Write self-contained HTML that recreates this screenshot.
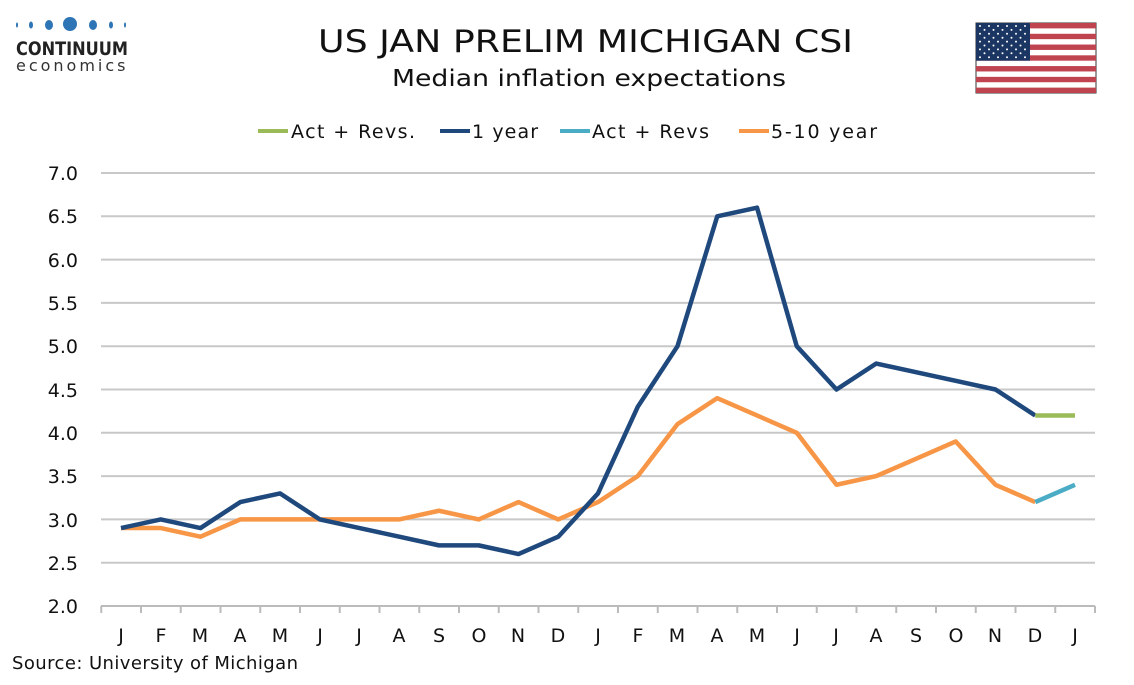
<!DOCTYPE html>
<html><head><meta charset="utf-8"><style>
body{margin:0;background:#fff;}
svg text{font-family:"DejaVu Sans","Liberation Sans",sans-serif;fill:#111;}
</style></head><body>
<svg id="s" width="1134" height="680" xmlns="http://www.w3.org/2000/svg">
<g fill="#2e75b6">
<ellipse cx="17" cy="25" rx="1" ry="2.5"/><ellipse cx="31" cy="25" rx="2" ry="3.5"/><ellipse cx="49" cy="25" rx="4" ry="5"/><circle cx="70" cy="24" r="7"/><ellipse cx="93" cy="25" rx="4" ry="5"/><ellipse cx="111" cy="25" rx="2" ry="3.5"/><ellipse cx="125" cy="25" rx="1" ry="2.5"/>
</g>
<text x="16" y="55" style="font-size:19px;font-weight:bold;fill:#222" textLength="112" lengthAdjust="spacingAndGlyphs">CONTINUUM</text>
<text x="16" y="71" style="font-size:16px;fill:#333;letter-spacing:1.5px" textLength="111">economics</text>
<text x="318" y="52" style="font-size:31px" textLength="535" lengthAdjust="spacingAndGlyphs">US JAN PRELIM MICHIGAN CSI</text>
<text x="392" y="86" style="font-size:23px" textLength="394" lengthAdjust="spacingAndGlyphs">Median inflation expectations</text>
<g id="flag"><rect x="976" y="23" width="120" height="70" fill="#fff" stroke="#333" stroke-width="1"/></g>
<line x1="258" y1="131" x2="288" y2="131" stroke="#9bbb59" stroke-width="4"/>
<text x="291" y="138" style="font-size:19px" textLength="124">Act + Revs.</text>
<line x1="440" y1="131" x2="470" y2="131" stroke="#1f497d" stroke-width="4"/>
<text x="472" y="138" style="font-size:19px" textLength="66">1 year</text>
<line x1="560" y1="131" x2="590" y2="131" stroke="#4bacc6" stroke-width="4"/>
<text x="592" y="138" style="font-size:19px" textLength="117">Act + Revs</text>
<line x1="739" y1="131" x2="769" y2="131" stroke="#f79646" stroke-width="4"/>
<text x="771" y="138" style="font-size:19px" textLength="106">5-10 year</text>
<g id="grid"></g>
<g style="font-size:19px" text-anchor="end">
<text x="78" y="180">7.0</text><text x="78" y="223">6.5</text><text x="78" y="267">6.0</text><text x="78" y="310">5.5</text><text x="78" y="353">5.0</text><text x="78" y="397">4.5</text><text x="78" y="440">4.0</text><text x="78" y="483">3.5</text><text x="78" y="527">3.0</text><text x="78" y="570">2.5</text><text x="78" y="613">2.0</text>
</g>
<g style="font-size:19px" text-anchor="middle">
<text x="121" y="642">J</text><text x="161" y="642">F</text><text x="200" y="642">M</text><text x="240" y="642">A</text><text x="280" y="642">M</text><text x="320" y="642">J</text><text x="359" y="642">J</text><text x="399" y="642">A</text><text x="439" y="642">S</text><text x="479" y="642">O</text><text x="518" y="642">N</text><text x="558" y="642">D</text><text x="598" y="642">J</text><text x="638" y="642">F</text><text x="677" y="642">M</text><text x="717" y="642">A</text><text x="757" y="642">M</text><text x="797" y="642">J</text><text x="836" y="642">J</text><text x="876" y="642">A</text><text x="916" y="642">S</text><text x="956" y="642">O</text><text x="995" y="642">N</text><text x="1035" y="642">D</text><text x="1075" y="642">J</text>
</g>
<text x="12" y="669" style="font-size:18px" textLength="286">Source: University of Michigan</text>
<g id="lines"></g>
</svg>
<script>
var NS="http://www.w3.org/2000/svg";
function el(p,t,a){var e=document.createElementNS(NS,t);for(var k in a)e.setAttribute(k,a[k]);p.appendChild(e);return e;}
var g=document.getElementById('grid');
for(var v=2.5;v<=7.01;v+=0.5){var y=606-(v-2)*86.6;el(g,'line',{x1:101,x2:1095,y1:y,y2:y,stroke:'#c8c8c8','stroke-width':2});}
el(g,'line',{x1:101,x2:1095,y1:606,y2:606,stroke:'#bbb','stroke-width':2});
for(var i=0;i<=25;i++){var x=101.25+39.75*i;el(g,'line',{x1:x,x2:x,y1:606,y2:613,stroke:'#bbb','stroke-width':2});}
function X(i){return 121+39.75*i;}function Y(v){return 606-(v-2)*86.6;}
function pl(d,off,c){var p=d.map(function(v,i){return X(i+off)+','+Y(v)}).join(' ');el(document.getElementById('lines'),'polyline',{points:p,fill:'none',stroke:c,'stroke-width':4.5,'stroke-linejoin':'round'});}
pl([2.9,2.9,2.8,3.0,3.0,3.0,3.0,3.0,3.1,3.0,3.2,3.0,3.2,3.5,4.1,4.4,4.2,4.0,3.4,3.5,3.7,3.9,3.4,3.2],0,'#f79646');
pl([3.2,3.4],23,'#4bacc6');
pl([2.9,3.0,2.9,3.2,3.3,3.0,2.9,2.8,2.7,2.7,2.6,2.8,3.3,4.3,5.0,6.5,6.6,5.0,4.5,4.8,4.7,4.6,4.5,4.2],0,'#1f497d');
pl([4.2,4.2],23,'#9bbb59');
var f=document.getElementById('flag');var h=70/13;
for(var k=0;k<13;k+=2)el(f,'rect',{x:976,y:23+k*h,width:120,height:h,fill:'#c0444f'});
el(f,'rect',{x:976,y:23,width:54,height:7*h,fill:'#1c3664'});
for(var r=0;r<9;r++)for(var c=0;c<(r%2?5:6);c++)el(f,'circle',{cx:980+c*9+(r%2?4.5:0),cy:26+r*3.9,r:1,fill:'#fff'});
</script>
</body></html>
